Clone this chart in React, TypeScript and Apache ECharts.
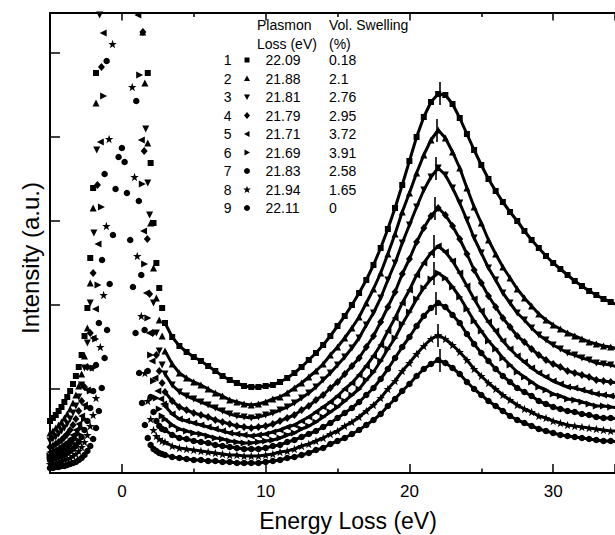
import React, { useEffect, useRef } from 'react';
import * as echarts from 'echarts';

// ---------- data ----------
const energy = [3, 3.5, 4, 4.5, 5, 5.5, 6, 6.5, 7, 7.5, 8, 8.5, 9, 9.5, 10, 10.5, 11, 11.5, 12, 12.5, 13, 13.5, 14, 14.5, 15, 15.5, 16, 16.5, 17, 17.5, 18, 18.5, 19, 19.5, 20, 20.5, 21, 21.5, 22, 22.5, 23, 23.5, 24, 24.5, 25, 25.5, 26, 26.5, 27, 27.5, 28, 28.5, 29, 29.5, 30, 30.5, 31, 31.5, 32, 32.5, 33, 33.5, 34, 34.5];

const s1 = [150, 136, 127, 121, 116, 112, 107, 102, 97, 93, 90, 87, 86, 86, 87, 88, 91, 95, 100, 106, 113, 120, 128, 137, 147, 157, 168, 180, 193, 208, 225, 244, 265, 288, 312, 336, 356, 371, 379, 378, 369, 355, 339, 323, 308, 294, 282, 271, 261, 252, 242, 233, 225, 217, 210, 204, 198, 192, 187, 182, 178, 174, 171, 168];
const s2 = [122, 109, 100, 95, 91, 88, 84, 80, 77, 73, 71, 69, 68, 69, 71, 74, 76, 80, 85, 90, 96, 102, 109, 118, 126, 135, 145, 156, 170, 184, 200, 219, 239, 261, 280, 300, 318, 333, 343, 335, 321, 305, 285, 266, 250, 233, 219, 206, 195, 184, 175, 167, 159, 153, 148, 144, 140, 137, 134, 131, 129, 127, 126, 124];
const s3 = [99, 88, 81, 77, 74, 71, 68, 65, 62, 59, 57, 56, 55, 56, 58, 60, 63, 66, 70, 75, 80, 86, 93, 100, 108, 116, 125, 135, 148, 160, 175, 193, 210, 230, 248, 266, 283, 296, 305, 298, 285, 270, 253, 235, 220, 205, 193, 180, 170, 160, 153, 145, 138, 133, 128, 124, 120, 118, 115, 113, 110, 109, 108, 106];
const s4 = [81, 72, 66, 63, 60, 58, 56, 53, 51, 49, 47, 46, 45, 46, 47, 49, 52, 55, 58, 63, 67, 73, 78, 85, 91, 99, 107, 115, 126, 137, 151, 166, 181, 199, 214, 231, 245, 257, 265, 258, 247, 234, 219, 203, 190, 177, 166, 155, 146, 137, 131, 124, 118, 113, 109, 106, 102, 100, 98, 96, 93, 92, 91, 90];
const s5 = [67, 59, 54, 52, 50, 48, 46, 44, 42, 40, 39, 38, 37, 38, 39, 41, 43, 46, 48, 52, 56, 61, 66, 71, 77, 84, 90, 98, 107, 117, 128, 142, 155, 170, 183, 198, 210, 220, 227, 221, 212, 200, 187, 174, 162, 151, 142, 132, 124, 117, 111, 105, 100, 96, 92, 89, 86, 85, 83, 81, 79, 78, 77, 76];
const s6 = [54, 48, 44, 42, 40, 39, 37, 35, 34, 32, 31, 30, 30, 31, 32, 33, 35, 38, 40, 44, 47, 51, 56, 61, 66, 72, 78, 84, 93, 101, 112, 124, 135, 149, 161, 174, 185, 194, 200, 195, 186, 176, 164, 152, 142, 132, 124, 115, 108, 101, 96, 91, 86, 83, 79, 77, 74, 73, 71, 69, 67, 67, 66, 65];
const s7 = [43, 38, 35, 34, 32, 31, 30, 28, 27, 26, 25, 24, 24, 24, 25, 27, 28, 31, 33, 36, 39, 42, 46, 50, 55, 60, 65, 71, 78, 85, 94, 104, 115, 126, 136, 147, 157, 165, 170, 166, 158, 150, 139, 129, 120, 112, 104, 97, 91, 85, 81, 77, 72, 69, 66, 64, 62, 61, 59, 58, 56, 55, 55, 54];
const s8 = [31, 27, 25, 24, 23, 22, 21, 20, 19, 18, 18, 17, 17, 17, 18, 19, 21, 22, 24, 27, 29, 32, 35, 39, 42, 47, 51, 56, 62, 68, 75, 84, 92, 102, 110, 119, 127, 134, 138, 134, 128, 121, 113, 104, 97, 90, 84, 78, 73, 68, 64, 61, 57, 55, 52, 50, 48, 47, 46, 45, 44, 43, 42, 42];
const s9 = [18, 16, 15, 14, 13, 13, 12, 12, 11, 11, 10, 10, 10, 10, 11, 12, 13, 15, 16, 18, 20, 23, 25, 29, 32, 35, 39, 43, 48, 53, 59, 67, 74, 82, 89, 97, 104, 109, 113, 110, 105, 99, 91, 84, 78, 72, 67, 62, 57, 53, 50, 47, 44, 42, 40, 38, 37, 36, 35, 34, 33, 32, 32, 31];

// zero-loss peak region, [energy, intensity]
const zlp1 = [[-5, 52], [-4.8, 55], [-4.6, 58], [-4.4, 62], [-4.2, 66], [-4, 71], [-3.8, 76], [-3.6, 82], [-3.4, 89], [-3.2, 97], [-3, 106], [-2.8, 118], [-2.6, 137], [-2.4, 165], [-2.2, 215], [-2, 285], [-1.8, 400], [1.8, 400], [2, 310], [2.2, 250], [2.4, 210], [2.6, 185], [2.8, 165]];
const zlp2 = [[-5, 40], [-4.8, 42], [-4.6, 45], [-4.4, 48], [-4.2, 51], [-4, 55], [-3.8, 59], [-3.6, 64], [-3.4, 70], [-3.2, 78], [-3, 87], [-2.8, 99], [-2.6, 117], [-2.4, 145], [-2.2, 190], [-2, 265], [-1.8, 370], [1.45, 441], [1.6, 390], [1.8, 330], [2, 250], [2.2, 205], [2.4, 175], [2.6, 153], [2.8, 137]];
const zlp3 = [[-5, 32], [-4.8, 34], [-4.6, 36], [-4.4, 39], [-4.2, 42], [-4, 45], [-3.8, 49], [-3.6, 54], [-3.4, 60], [-3.2, 67], [-3, 76], [-2.8, 88], [-2.6, 105], [-2.4, 130], [-2.2, 170], [-1.95, 240], [-1.75, 323], [-1.55, 458], [1.66, 344], [1.8, 290], [1.93, 258], [2.2, 170], [2.4, 140], [2.6, 122], [2.8, 108]];
const zlp4 = [[-5, 26], [-4.8, 27], [-4.6, 29], [-4.4, 31], [-4.2, 33], [-4, 36], [-3.8, 39], [-3.6, 43], [-3.4, 48], [-3.2, 54], [-3, 62], [-2.8, 72], [-2.6, 86], [-2.4, 106], [-2.2, 140], [-2, 200], [-1.7, 288], [-1.42, 406], [1.46, 441], [1.55, 322], [1.77, 234], [1.93, 179], [2.15, 140], [2.4, 118], [2.6, 102], [2.8, 90]];
const zlp5 = [[-5, 21], [-4.8, 22], [-4.6, 23], [-4.4, 25], [-4.2, 27], [-4, 29], [-3.8, 31], [-3.6, 34], [-3.4, 38], [-3.2, 43], [-3, 49], [-2.8, 57], [-2.6, 68], [-2.4, 83], [-2.2, 105], [-2, 135], [-1.84, 164], [-1.66, 229], [-1.5, 331], [-1.3, 440], [1.11, 458], [1.35, 333], [1.51, 242], [1.7, 180], [1.9, 140], [2.1, 112], [2.3, 95], [2.5, 82], [2.7, 74], [2.9, 69]];
const zlp6 = [[-5, 17], [-4.8, 18], [-4.6, 19], [-4.4, 20], [-4.2, 21], [-4, 23], [-3.8, 25], [-3.6, 27], [-3.4, 30], [-3.2, 34], [-3, 39], [-2.8, 45], [-2.6, 54], [-2.4, 66], [-2.2, 82], [-2, 105], [-1.82, 134], [-1.66, 188], [-1.42, 266], [-1.27, 377], [1.24, 398], [1.42, 289], [1.58, 209], [1.81, 155], [2, 118], [2.2, 92], [2.4, 75], [2.6, 64], [2.8, 57]];
const zlp7 = [[-5, 13], [-4.8, 14], [-4.6, 15], [-4.4, 16], [-4.2, 17], [-4, 18], [-3.8, 20], [-3.6, 22], [-3.4, 24], [-3.2, 27], [-3, 31], [-2.8, 36], [-2.6, 43], [-2.4, 52], [-2.2, 65], [-2, 82], [-1.8, 108], [-1.6, 150], [-1.38, 213], [-1.2, 299], [-1.06, 412], [1, 372], [1.18, 272], [1.35, 198], [1.58, 143], [1.8, 102], [2, 76], [2.2, 61], [2.4, 52], [2.6, 47], [2.8, 44]];
const zlp8 = [[-5, 9], [-4.8, 10], [-4.6, 10], [-4.4, 11], [-4.2, 12], [-4, 13], [-3.8, 14], [-3.6, 15], [-3.4, 17], [-3.2, 19], [-3, 22], [-2.8, 26], [-2.6, 31], [-2.4, 38], [-2.2, 47], [-2, 58], [-1.8, 75], [-1.5, 126], [-1.27, 178], [-1.08, 247], [-0.89, 334], [-0.65, 429], [0.72, 386], [0.88, 296], [1.07, 217], [1.35, 157], [1.6, 100], [1.8, 72], [2, 54], [2.2, 43], [2.4, 37], [2.6, 34], [2.8, 32]];
const zlp9 = [[-5, 5], [-4.8, 5], [-4.6, 6], [-4.4, 6], [-4.2, 7], [-4, 7], [-3.8, 8], [-3.6, 9], [-3.4, 10], [-3.2, 11], [-3, 13], [-2.8, 15], [-2.6, 18], [-2.4, 22], [-2.2, 27], [-2, 34], [-1.8, 45], [-1.6, 62], [-1.4, 85], [-1.2, 115], [-1.03, 143], [-0.85, 189], [-0.62, 238], [-0.44, 284], [-0.23, 316], [0, 325], [0.19, 311], [0.35, 280], [0.58, 233], [0.77, 186], [0.95, 140], [1.2, 100], [1.4, 70], [1.6, 48], [1.8, 35], [2, 28], [2.2, 24], [2.4, 22], [2.6, 20], [2.8, 19]];

const sampleIds = ['1', '2', '3', '4', '5', '6', '7', '8', '9'];
const plasmonLoss = [22.09, 21.88, 21.81, 21.79, 21.71, 21.69, 21.83, 21.94, 22.11];
const plasmonLabels = ['22.09', '21.88', '21.81', '21.79', '21.71', '21.69', '21.83', '21.94', '22.11'];
const volSwelling = ['0.18', '2.1', '2.76', '2.95', '3.72', '3.91', '2.58', '1.65', '0'];
const peakIntensity = [380, 343, 305, 265, 227, 200, 170, 138, 113];
const xTickLabels = ['0', '10', '20', '30'];

const mains = [s1, s2, s3, s4, s5, s6, s7, s8, s9];
const zlps = [zlp1, zlp2, zlp3, zlp4, zlp5, zlp6, zlp7, zlp8, zlp9];
const kinds = ['square', 'up', 'down', 'diamond', 'left', 'right', 'circle', 'star', 'circle'];

// ---------- styling ----------
const FONT = '"Liberation Sans", Arial, Helvetica, sans-serif';
const STAR = 'path://M10,0L12.35,6.76L19.51,6.91L13.8,11.24L15.88,18.09L10,14L4.12,18.09L6.2,11.24L0.49,6.91L7.65,6.76Z';
const SYMBOLS: Record<string, any> = {
  square: 'rect',
  up: 'path://M5,0L10,10L0,10Z',
  down: 'path://M0,0L10,0L5,10Z',
  diamond: 'diamond',
  left: 'path://M0,5L10,0L10,10Z',
  right: 'path://M10,5L0,0L0,10Z',
  circle: 'circle',
  star: STAR,
};
const SIZES: Record<string, any> = {
  square: [6, 6],
  up: [7, 7],
  down: [7, 7],
  diamond: [7, 8],
  left: [7, 7],
  right: [7, 7],
  circle: [6.5, 6.5],
  star: [8.5, 8.5],
};

function glyph(kind: string, cx: number, cy: number): any {
  const style = { fill: '#000' };
  const poly = (pts: number[][]) => ({ type: 'polygon', shape: { points: pts }, style });
  switch (kind) {
    case 'square':
      return { type: 'rect', shape: { x: cx - 2.5, y: cy - 2.5, width: 5, height: 5 }, style };
    case 'up':
      return poly([[cx, cy - 3], [cx + 3, cy + 2.5], [cx - 3, cy + 2.5]]);
    case 'down':
      return poly([[cx - 3, cy - 2.5], [cx + 3, cy - 2.5], [cx, cy + 3]]);
    case 'diamond':
      return poly([[cx, cy - 3.5], [cx + 3, cy], [cx, cy + 3.5], [cx - 3, cy]]);
    case 'left':
      return poly([[cx - 3, cy], [cx + 2.5, cy - 3], [cx + 2.5, cy + 3]]);
    case 'right':
      return poly([[cx + 3, cy], [cx - 2.5, cy - 3], [cx - 2.5, cy + 3]]);
    case 'star': {
      const pts: number[][] = [];
      for (let k = 0; k < 10; k++) {
        const r = k % 2 === 0 ? 4 : 1.7;
        const a = -Math.PI / 2 + (k * Math.PI) / 5;
        pts.push([cx + r * Math.cos(a), cy + 0.3 + r * Math.sin(a)]);
      }
      return poly(pts);
    }
    default:
      return { type: 'circle', shape: { cx, cy, r: 3 }, style };
  }
}

function text(t: string, x: number, y: number, size: number, align = 'left', extra: any = {}): any {
  return {
    type: 'text',
    x,
    y,
    ...extra,
    style: {
      text: t,
      fill: '#000',
      font: `${size}px ${FONT}`,
      textAlign: align,
      textVerticalAlign: 'middle',
    },
  };
}

function buildOption(): any {
  const series: any[] = [];
  mains.forEach((vals, i) => {
    const kind = kinds[i];
    series.push({
      type: 'line',
      name: sampleIds[i],
      data: energy.map((e, j) => [e, vals[j]]),
      symbol: SYMBOLS[kind],
      symbolSize: SIZES[kind],
      showSymbol: true,
      showAllSymbol: true,
      itemStyle: { color: '#000', opacity: 1 },
      lineStyle: { color: '#000', width: 3 },
      silent: true,
      clip: true,
      z: 3,
      markLine: {
        silent: true,
        symbol: ['none', 'none'],
        label: { show: false },
        lineStyle: { color: '#000', width: 1.6, type: 'solid' },
        data: [[{ coord: [plasmonLoss[i], peakIntensity[i] - 12] }, { coord: [plasmonLoss[i], peakIntensity[i] + 11] }]],
      },
    });
    series.push({
      type: 'scatter',
      name: sampleIds[i] + ' zlp',
      data: zlps[i],
      symbol: SYMBOLS[kind],
      symbolSize: SIZES[kind],
      itemStyle: { color: '#000', opacity: 1 },
      silent: true,
      clip: true,
      z: 3,
    });
  });

  const elements: any[] = [];
  elements.push(text('Energy Loss (eV)', 348, 521, 23, 'center'));
  elements.push(text('Intensity (a.u.)', 30, 258, 24, 'center', { rotation: Math.PI / 2 }));
  elements.push(text('Plasmon', 257, 25, 14));
  elements.push(text('Loss (eV)', 257, 43.5, 14));
  elements.push(text('Vol. Swelling', 329, 25, 14));
  elements.push(text('(%)', 329, 43.5, 14));
  sampleIds.forEach((id, i) => {
    const y = 60 + 18.5 * i;
    elements.push(text(id, 227.7, y, 14, 'center'));
    elements.push(glyph(kinds[i], 247, y));
    elements.push(text(plasmonLabels[i], 265.5, y, 14));
    elements.push(text(volSwelling[i], 329, y, 14));
  });

  const axisLine = { show: true, onZero: false, lineStyle: { color: '#000', width: 2 } };
  return {
    animation: false,
    backgroundColor: '#fff',
    grid: { left: 50, right: 0, top: 13, bottom: 62, containLabel: false },
    xAxis: [
      {
        type: 'value',
        position: 'bottom',
        min: -5,
        max: 34.3,
        splitNumber: 4,
        axisLine,
        axisTick: { show: true, inside: true, length: 9, lineStyle: { color: '#000', width: 1.5 } },
        minorTick: { show: true, splitNumber: 2, length: 4.5, lineStyle: { color: '#000', width: 1.5 } },
        splitLine: { show: false },
        minorSplitLine: { show: false },
        axisLabel: {
          show: true,
          margin: 10,
          color: '#000',
          fontSize: 17,
          fontFamily: FONT,
          showMinLabel: false,
          showMaxLabel: false,
          formatter: (v: number) => {
            const s = String(Math.round(v));
            return xTickLabels.indexOf(s) >= 0 && Math.abs(v - Math.round(v)) < 1e-6 ? s : '';
          },
        },
      },
      {
        type: 'value',
        position: 'top',
        min: -5,
        max: 34.3,
        splitNumber: 4,
        axisLine,
        axisTick: { show: true, inside: true, length: 7.5, lineStyle: { color: '#000', width: 1.5 } },
        minorTick: { show: true, splitNumber: 2, length: 4, lineStyle: { color: '#000', width: 1.5 } },
        splitLine: { show: false },
        axisLabel: { show: false },
      },
    ],
    yAxis: {
      type: 'value',
      min: 0,
      max: 460,
      interval: 84,
      axisLine,
      axisTick: { show: true, inside: true, length: 10, lineStyle: { color: '#000', width: 1.5 } },
      splitLine: { show: false },
      axisLabel: { show: false },
    },
    series,
    graphic: { elements },
  };
}

export default function App() {
  const ref = useRef<HTMLDivElement>(null);
  useEffect(() => {
    if (!ref.current) return;
    const chart = echarts.init(ref.current, null, { renderer: 'svg' });
    chart.setOption(buildOption());
    return () => chart.dispose();
  }, []);
  return (
    <div
      ref={ref}
      style={{ position: 'absolute', left: 0, top: 0, width: 615, height: 535, background: '#fff' }}
    />
  );
}
